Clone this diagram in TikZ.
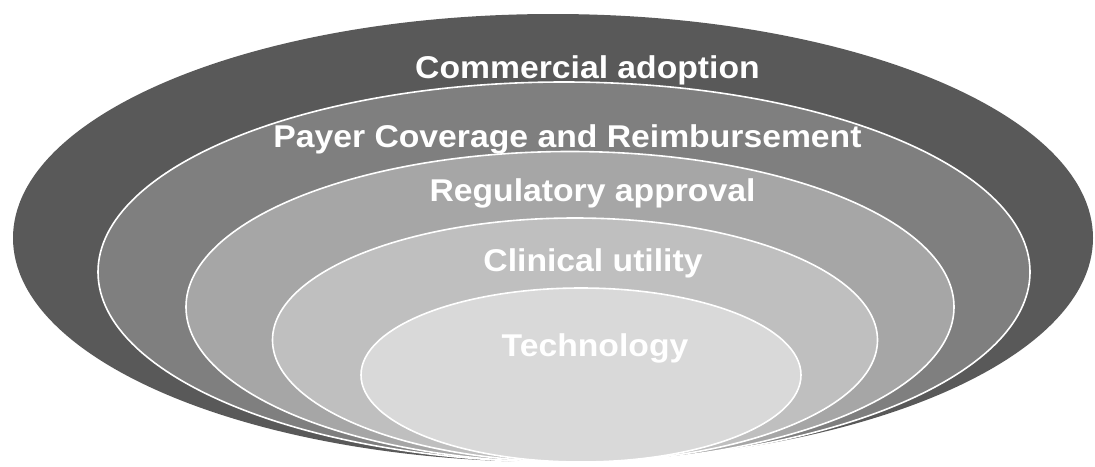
\documentclass[tikz,border=0pt]{standalone}
\usepackage{fontspec}
\setmainfont{Liberation Sans}
\usetikzlibrary{shapes.geometric}
\definecolor{ring1}{HTML}{595959}
\definecolor{ring2}{HTML}{7F7F7F}
\definecolor{ring3}{HTML}{A6A6A6}
\definecolor{ring4}{HTML}{BFBFBF}
\definecolor{ring5}{HTML}{D9D9D9}
\begin{document}
\begin{tikzpicture}[x=1pt,y=-1pt,
  ring/.style={ellipse, inner sep=0pt, outer sep=0pt, draw=white, line width=1.6pt},
  label/.style={anchor=base, text=white, inner sep=0pt,
    font=\fontsize{31.5}{36}\selectfont\bfseries}]
\useasboundingbox (0,0) rectangle (1095,466);
% nested layers, all meeting near the bottom
\node[ring, draw=none, fill=ring1, minimum width=1080pt, minimum height=448pt] (l1) at (553,238) {};
\node[ring, fill=ring2, minimum width=932pt, minimum height=380pt] (l2) at (564,272) {};
\node[ring, fill=ring3, minimum width=768pt, minimum height=311pt] (l3) at (570,307) {};
\node[ring, fill=ring4, minimum width=605pt, minimum height=244pt] (l4) at (575,340) {};
\node[ring, fill=ring5, minimum width=440pt, minimum height=174pt] (l5) at (581,375) {};
% layer titles (slightly widened lettering)
\node[label] (t1) at (587.5,78) {\scalebox{1.07}[1]{Commercial adoption}};
\node[label] (t2) at (567.5,147) {\scalebox{1.07}[1]{Payer Coverage and Reimbursement}};
\node[label] (t3) at (592.5,201) {\scalebox{1.07}[1]{Regulatory approval}};
\node[label] (t4) at (593,271) {\scalebox{1.07}[1]{Clinical utility}};
\node[label] (t5) at (595,356) {\scalebox{1.07}[1]{Technology}};
\end{tikzpicture}
\end{document}
